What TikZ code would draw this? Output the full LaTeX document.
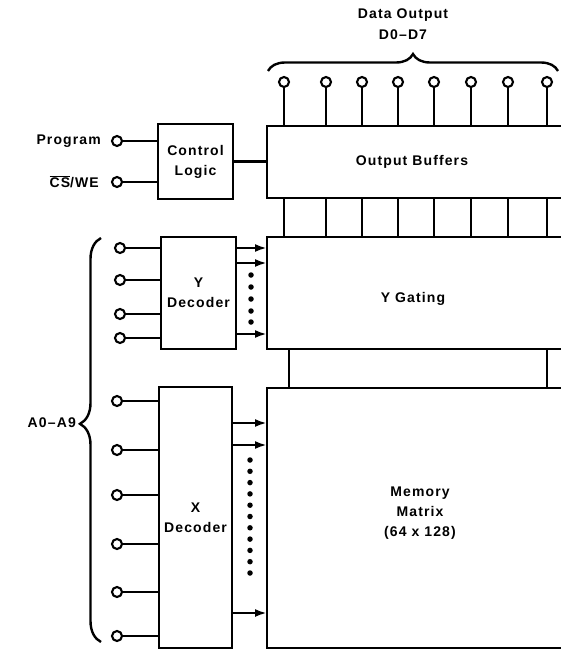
\documentclass[tikz,border=0pt]{standalone}
\usepackage{fontspec}
\setmainfont{Liberation Sans}[LetterSpace=8]
\usetikzlibrary{arrows.meta,decorations.pathreplacing}

\tikzset{
  blk/.style={draw, line width=2.4pt, inner sep=0pt, outer sep=0pt},
  pin/.style={circle, draw, fill=white, line width=2.1pt, minimum size=10pt, inner sep=0pt},
  wire/.style={line width=2.4pt},
  sig/.style={line width=2.4pt, -{Latex[length=12pt,width=8pt]}},
  bdot/.style={circle, fill, inner sep=0pt, minimum size=5.5pt},
  lbl/.style={align=center, inner sep=0pt},
}

\begin{document}
\begin{tikzpicture}[x=1pt,y=-1pt,font=\fontsize{14}{20}\selectfont\bfseries]
  \useasboundingbox (0,0) rectangle (561,650);
  \clip (0,0) rectangle (561,650);
  % blocks
  \node[blk, lbl, minimum width=75, minimum height=75] (ctl) at (195.5,161.5) {Control\\Logic};
  \node[blk, minimum width=320, minimum height=72, anchor=north west] (buf) at (267,126) {};
  \node[lbl] (bufl) at (412,162) {Output Buffers};
  \node[blk, minimum width=320, minimum height=112, anchor=north west] (ygate) at (267,237) {};
  \node[lbl] (ygl) at (413,299) {Y Gating};
  \node[blk, minimum width=320, minimum height=260, anchor=north west] (mem) at (267,388) {};
  \node[lbl] (meml) at (420,513) {Memory\\Matrix\\(64 x 128)};
  \node[blk, lbl, minimum width=75, minimum height=112] (ydec) at (198.5,293) {Y\\Decoder};
  \node[blk, lbl, minimum width=73, minimum height=261] (xdec) at (195.5,517.5) {X\\Decoder};

  % control inputs
  \node[pin] (prog) at (117,141) {};
  \node[pin] (cswe) at (117,182) {};
  \node[lbl, anchor=east] (progl) at (101,141) {Program};
  \node[lbl, anchor=east] (cswel) at (99,182) {$\overline{\hbox{CS}}$/WE};
  \draw[wire] (prog) -- (prog -| ctl.west);
  \draw[wire] (cswe) -- (cswe -| ctl.west);
  \draw[wire] (ctl) -- (ctl -| buf.west);

  % data outputs and bus
  \foreach \x [count=\i] in {284,326,362,398,434,471,508,547} {
    \node[pin] (d\i) at (\x,82) {};
    \draw[wire] (d\i) -- (d\i |- buf.north);
    \draw[wire] (buf.south -| d\i) -- (ygate.north -| d\i);
  }
  \draw[wire] ([xshift=22pt]ygate.south west) -- ([xshift=22pt]mem.north west);
  \draw[wire] ([xshift=280pt]ygate.south west) -- ([xshift=280pt]mem.north west);
  \draw[wire, decorate, decoration={brace, amplitude=17pt}] (268,71) -- (558,71);
  \node[lbl] (dout) at (403,15) {Data Output};
  \node[lbl] (doutr) at (403,35) {D0–D7};

  % address inputs
  \foreach \y [count=\i] in {248,280,314,338} {
    \node[pin] (ya\i) at (120,\y) {};
    \draw[wire] (ya\i) -- (ya\i -| ydec.west);
  }
  \foreach \y [count=\i] in {401,450,495,544,592,636} {
    \node[pin] (xa\i) at (117,\y) {};
    \draw[wire] (xa\i) -- (xa\i -| xdec.west);
  }
  \draw[wire, decorate, decoration={brace, amplitude=21pt, aspect=0.54}] (101,642) -- (101,238);
  \node[lbl, anchor=east] (addr) at (76,423) {A0–A9};

  % decoder outputs
  \foreach \y in {248,263,334} \draw[sig] (ydec.east |- 0,\y) -- (ygate.west |- 0,\y);
  \foreach \y in {423,445,613} \draw[sig] (xdec.east |- 0,\y) -- (mem.west |- 0,\y);
  \foreach \y [count=\i] in {275,287,299,311,322} \node[bdot] (ydot\i) at (251,\y) {};
  \foreach \i in {0,...,10} \node[bdot] (xdot\i) at (250,460+11.3*\i) {};
\end{tikzpicture}
\end{document}
